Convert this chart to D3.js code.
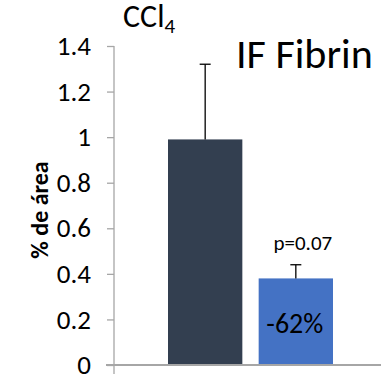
<!DOCTYPE html>
<html>
<head>
<meta charset="utf-8">
<script src="https://cdn.jsdelivr.net/npm/d3@7"></script>
<style>
  body { margin: 0; background: #fff; }
  svg { display: block; }
</style>
</head>
<body>
<div id="chart"></div>
<script>
// data
const categories = ["CCl4", "Tratado"];
const values = [0.99, 0.38];
const errors = [0.33, 0.06];
const barColors = ["#333f50", "#4472c4"];
const yTicks = [0, 0.2, 0.4, 0.6, 0.8, 1, 1.2, 1.4];
const barLabels = ["", "-62%"];
const pLabels = ["", "p=0.07"];

const width = 381;
const height = 378;
const font = "Carlito, Lato, sans-serif";

const svg = d3.select("#chart").append("svg")
    .attr("width", width)
    .attr("height", height)
    .style("font-family", font);

const y = d3.scaleLinear()
    .domain([0, 1.4])
    .range([365, 46]);

const x = d3.scaleBand()
    .domain(categories)
    .range([168, 333])
    .paddingInner(0.18)
    .paddingOuter(0);

const axisX = 114;

// bars
svg.selectAll(".bar")
    .data(categories)
    .join("rect")
    .attr("class", "bar")
    .attr("x", d => x(d))
    .attr("y", (d, i) => y(values[i]))
    .attr("width", x.bandwidth())
    .attr("height", (d, i) => y(0) - y(values[i]))
    .attr("fill", (d, i) => barColors[i]);

// error bars (upper only)
const err = svg.selectAll(".err")
    .data(categories)
    .join("g")
    .attr("class", "err")
    .attr("stroke", "#000")
    .attr("stroke-width", 1.3);

err.append("line")
    .attr("x1", d => x(d) + x.bandwidth() / 2)
    .attr("x2", d => x(d) + x.bandwidth() / 2)
    .attr("y1", (d, i) => y(values[i]))
    .attr("y2", (d, i) => y(values[i] + errors[i]));

err.append("line")
    .attr("x1", d => x(d) + x.bandwidth() / 2 - 5.5)
    .attr("x2", d => x(d) + x.bandwidth() / 2 + 5.5)
    .attr("y1", (d, i) => y(values[i] + errors[i]))
    .attr("y2", (d, i) => y(values[i] + errors[i]));

// y axis
const yAxis = svg.append("g")
    .attr("transform", `translate(${axisX},0)`)
    .call(d3.axisLeft(y)
        .tickValues(yTicks)
        .tickSize(7)
        .tickPadding(16)
        .tickFormat(d => d3.format("")(+d.toFixed(1))));

yAxis.select(".domain").remove();
yAxis.selectAll("line").attr("stroke", "#a6a6a6").attr("stroke-width", 1.3);
yAxis.selectAll("text")
    .attr("fill", "#000")
    .style("font-family", font)
    .style("font-size", "27px");

svg.append("line")
    .attr("x1", axisX).attr("x2", axisX)
    .attr("y1", y(1.4)).attr("y2", y(0) + 9)
    .attr("stroke", "#a6a6a6")
    .attr("stroke-width", 1.3);

// category axis baseline
svg.append("line")
    .attr("x1", axisX - 8).attr("x2", width)
    .attr("y1", y(0)).attr("y2", y(0))
    .attr("stroke", "#a6a6a6")
    .attr("stroke-width", 2);

// y label
svg.append("text")
    .attr("transform", `translate(48,210) rotate(-90)`)
    .attr("text-anchor", "middle")
    .style("font-size", "24px")
    .style("font-weight", "bold")
    .text("% de área");

// labels on/above bars
svg.selectAll(".plab")
    .data(categories)
    .join("text")
    .attr("class", "plab")
    .attr("x", d => x(d) + x.bandwidth() / 2 + 7)
    .attr("y", 250)
    .attr("text-anchor", "middle")
    .style("font-size", "21px")
    .text((d, i) => pLabels[i]);

svg.selectAll(".blab")
    .data(categories)
    .join("text")
    .attr("class", "blab")
    .attr("x", d => x(d) + x.bandwidth() / 2 - 1)
    .attr("y", 333)
    .attr("text-anchor", "middle")
    .style("font-size", "28px")
    .text((d, i) => barLabels[i]);

// titles
const ccl = svg.append("text")
    .attr("x", 123)
    .attr("y", 27)
    .style("font-size", "32px");
ccl.append("tspan").text("CCl");
ccl.append("tspan").attr("dy", 6).style("font-size", "21px").text("4");

svg.append("text")
    .attr("x", 236)
    .attr("y", 68)
    .style("font-size", "42px")
    .text("IF Fibrin");
</script>
</body>
</html>
